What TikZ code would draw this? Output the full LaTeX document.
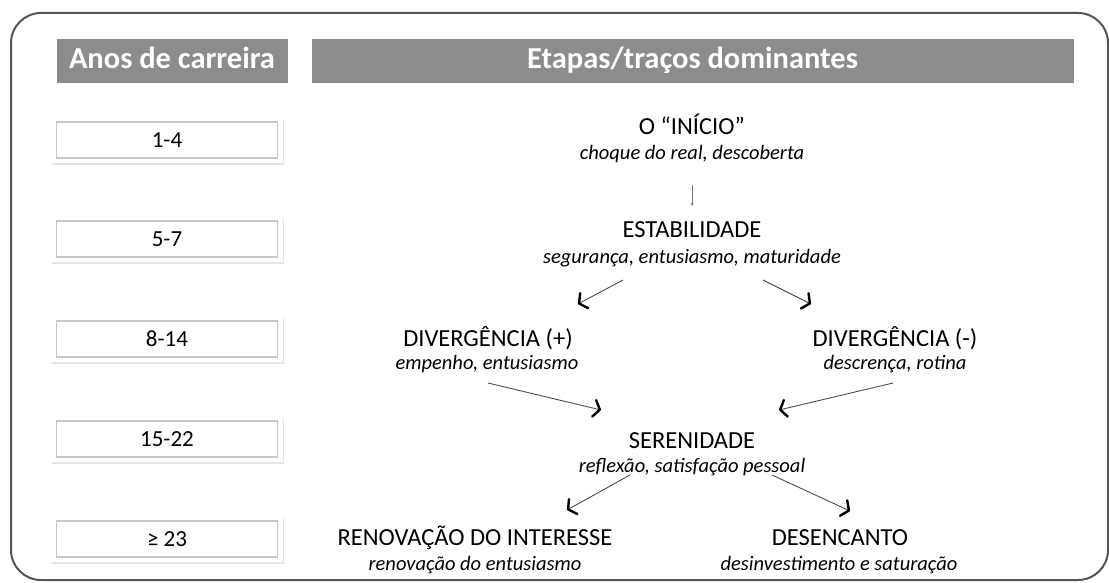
\documentclass[tikz,border=0pt]{standalone}
\usepackage{fontspec}
\setmainfont{Carlito}
\usetikzlibrary{arrows.meta,shadows}
\pgfdeclarearrow{
  name=OpenVee,
  parameters={\the\pgfarrowlength,\the\pgfarrowwidth,\the\pgfarrowlinewidth},
  setup code={
    \pgfarrowssettipend{0pt}
    \pgfarrowssetlineend{-0.5\pgfarrowlinewidth}
    \pgfarrowssetbackend{-\pgfarrowlength}
    \pgfarrowsupperhullpoint{-\pgfarrowlength}{.5\pgfarrowwidth}
    \pgfarrowshullpoint{0pt}{0pt}
    \pgfarrowssavethe\pgfarrowlength
    \pgfarrowssavethe\pgfarrowwidth
    \pgfarrowssavethe\pgfarrowlinewidth
  },
  drawing code={
    \pgfsetdash{}{0pt}\pgfsetroundjoin\pgfsetroundcap
    \pgfsetlinewidth{\pgfarrowlinewidth}
    \pgfpathmoveto{\pgfqpoint{-\pgfarrowlength}{.5\pgfarrowwidth}}
    \pgfpathlineto{\pgfqpoint{-0.5\pgfarrowlinewidth}{0pt}}
    \pgfpathlineto{\pgfqpoint{-\pgfarrowlength}{-.5\pgfarrowwidth}}
    \pgfusepathqstroke
  },
  defaults={length=7pt, width=16pt, line width=2.4pt}
}
\definecolor{hdrgray}{HTML}{8C8C8C}
\definecolor{framegray}{HTML}{555555}
\definecolor{thingray}{HTML}{C8C8C8}
\tikzset{
  hdr/.style={fill=hdrgray, draw=white, line width=5pt, text=white,
    font=\fontsize{30.5}{33}\selectfont\bfseries, inner sep=0pt,
    text height=21pt, text depth=6pt,
    drop shadow={shadow xshift=0.8pt, shadow yshift=-2pt, fill=black!25, opacity=0.6}},
  yearframe/.style={fill=white, minimum width=232pt, minimum height=46pt, inner sep=0pt,
    drop shadow={shadow xshift=0.5pt, shadow yshift=-2pt, fill=black!20, opacity=0.5}},
  yearbox/.style={draw=thingray, line width=1.2pt, fill=white, minimum width=221pt, minimum height=36pt,
    font=\fontsize{23}{25}\selectfont, inner sep=0pt},
  stage/.style={font=\fontsize{24.5}{26}\selectfont, inner sep=0pt, anchor=base},
  sub/.style={font=\fontsize{20.5}{22}\selectfont\itshape, inner sep=0pt, anchor=base},
  flow/.style={draw=black!70, line width=0.9pt,
    -{OpenVee[length=7pt,width=17pt,line width=2.4pt,color=black]}},
  thinflow/.style={draw=black!55, line width=0.6pt, -{Stealth[length=3pt,width=3pt]}}
}
\begin{document}
\begin{tikzpicture}[x=1pt,y=-1pt]
\useasboundingbox (0,0) rectangle (1109,583);
% outer frame
\draw[framegray, line width=2pt, rounded corners=30pt] (11,13) rectangle (1108,580);
% headers
\node[hdr, minimum width=236pt, minimum height=49pt] (hanos) at (172,61) {Anos de carreira};
\node[hdr, minimum width=767pt, minimum height=49pt] (hetapas) at (692.5,61) {Etapas/traços dominantes};
% year boxes
\foreach \n/\yy/\t in {y1/140/1-4, y2/239/5-7, y3/339/8-14, y4/439/15-22, y5/539/{≥ 23}}{
  \node[yearframe] (\n f) at (167,\yy) {};
  \node[yearbox] (\n) at (167,\yy) {\t};
}
% stages
\node[stage] (inicio) at (692,135) {O “INÍCIO”};
\node[sub] (inicios) at (692,160) {choque do real, descoberta};
\node[stage] (estab) at (692,237) {ESTABILIDADE};
\node[sub] (estabs) at (692,263) {segurança, entusiasmo, maturidade};
\node[stage] (divp) at (488,346) {DIVERGÊNCIA (+)};
\node[sub] (divps) at (487,369) {empenho, entusiasmo};
\node[stage] (divm) at (895,346) {DIVERGÊNCIA (-)};
\node[sub] (divms) at (895,369) {descrença, rotina};
\node[stage] (seren) at (692,448) {SERENIDADE};
\node[sub] (serens) at (692,472) {reflexão, satisfação pessoal};
\node[stage] (renov) at (475,545) {RENOVAÇÃO DO INTERESSE};
\node[sub] (renovs) at (475,570) {renovação do entusiasmo};
\node[stage] (desen) at (840,545) {DESENCANTO};
\node[sub] (desens) at (839,570) {desinvestimento e saturação};
% connector anchors
\coordinate (a1s) at (692,185); \coordinate (a1e) at (692,206);
\coordinate (a2s) at (623,280); \coordinate (a2e) at (578,304);
\coordinate (a3s) at (763,280); \coordinate (a3e) at (811,304);
\coordinate (a4s) at (488,383); \coordinate (a4e) at (601,410);
\coordinate (a5s) at (893,383); \coordinate (a5e) at (779,410);
\coordinate (a6s) at (630,475); \coordinate (a6e) at (567,510);
\coordinate (a7s) at (772,475); \coordinate (a7e) at (850,511);
\draw[thinflow] (a1s) -- (a1e);
\draw[flow] (a2s) -- (a2e);
\draw[flow] (a3s) -- (a3e);
\draw[flow] (a4s) -- (a4e);
\draw[flow] (a5s) -- (a5e);
\draw[flow] (a6s) -- (a6e);
\draw[flow] (a7s) -- (a7e);
\end{tikzpicture}
\end{document}
